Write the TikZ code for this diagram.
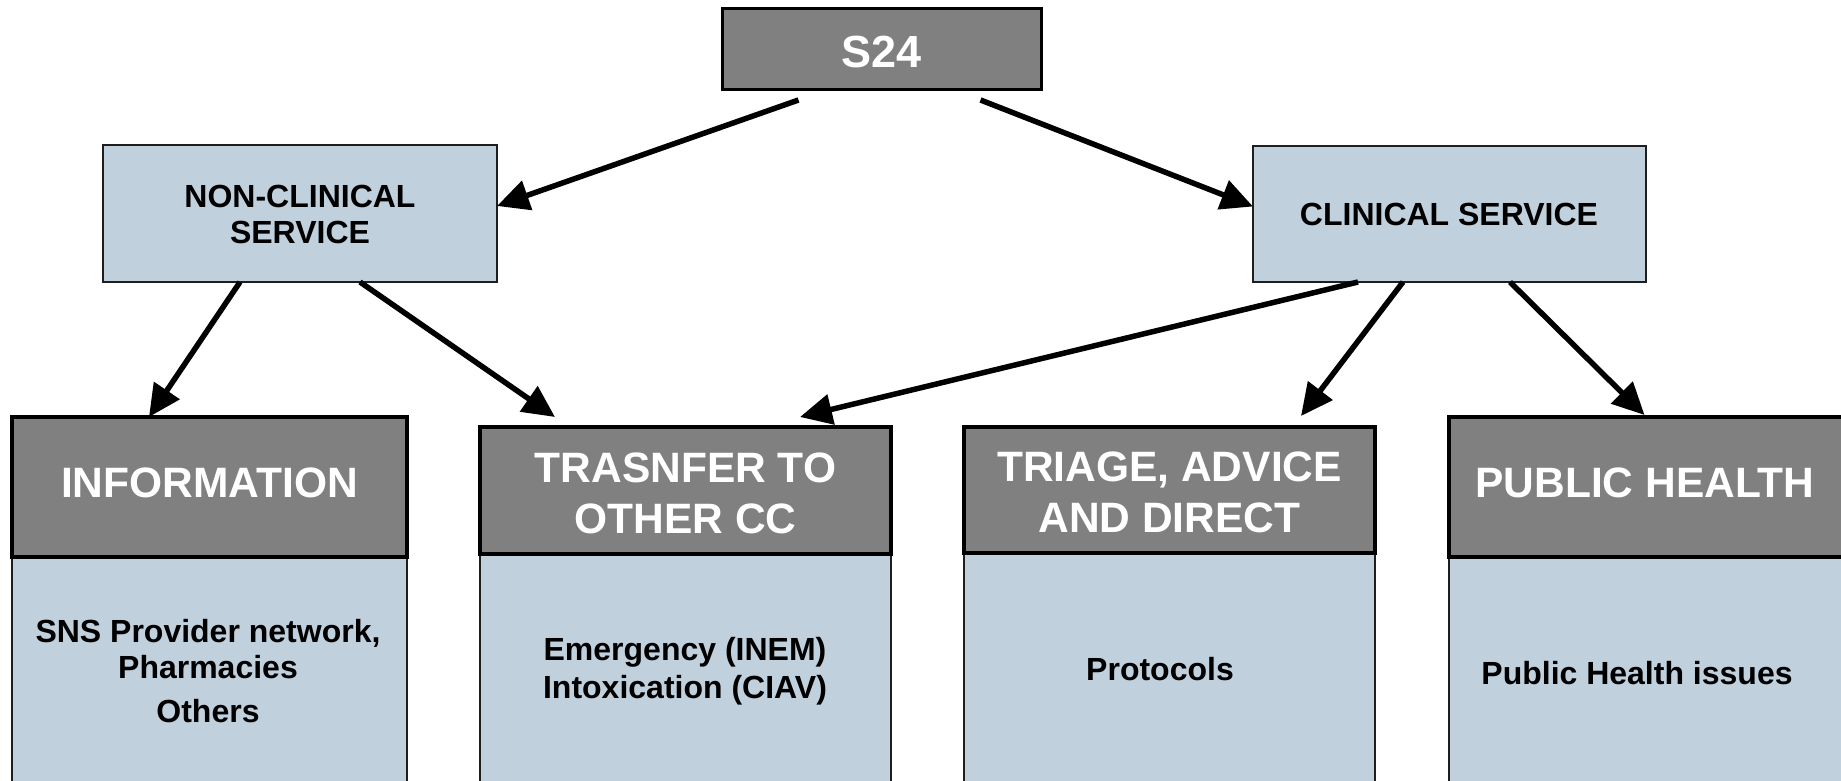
\documentclass[tikz,border=0pt]{standalone}
\usepackage{fontspec}
\setmainfont{Liberation Sans}
\usetikzlibrary{arrows.meta,calc}
\definecolor{hdr}{RGB}{128,128,128}
\definecolor{bdy}{RGB}{192,208,221}
\definecolor{bline}{RGB}{30,30,30}
\begin{document}
\begin{tikzpicture}[x=1pt,y=-1pt,
  hbox/.style={draw=black, line width=3.5pt, fill=hdr, inner sep=0pt, outer sep=0pt},
  bbox/.style={draw=bline, line width=1.5pt, fill=bdy, inner sep=0pt, outer sep=0pt},
  htxt/.style={text=white, font=\bfseries\fontsize{42.5}{51}\selectfont, align=center, inner sep=0pt},
  btxt/.style={text=black, font=\bfseries\fontsize{32}{37}\selectfont, align=center, inner sep=0pt},
  arr/.style={line width=5.5pt, -{Triangle[length=32pt,width=30pt]}}]
\clip (0,0) rectangle (1841,781);
% top
\node[hbox, line width=3pt, minimum width=319pt, minimum height=81pt] (s24) at (881.5,49.5) {};
\node[htxt, anchor=base, font=\bfseries\fontsize{45}{54}\selectfont] (s24t) at (881.5,68) {S24};
% services
\node[bbox, minimum width=394pt, minimum height=137pt] (nc) at (300,213.5) {};
\node[btxt, anchor=base, font=\bfseries\fontsize{32}{36}\selectfont] (nct) at (300,243) {NON-CLINICAL\\SERVICE};
\node[bbox, minimum width=393pt, minimum height=136pt] (cs) at (1449.5,214) {};
\node[btxt, anchor=base] (cst) at (1449,225) {CLINICAL SERVICE};
% bodies
\node[bbox, anchor=north, minimum width=395pt, minimum height=260pt] (infoB) at (209.5,557) {};
\node[bbox, anchor=north, minimum width=411pt, minimum height=260pt] (transB) at (685.5,554) {};
\node[bbox, anchor=north, minimum width=411pt, minimum height=260pt] (triB) at (1169.5,553) {};
\node[bbox, anchor=north, minimum width=395pt, minimum height=260pt] (pubB) at (1646.5,557) {};
% headers
\node[hbox, minimum width=395pt, minimum height=140pt] (infoH) at (209.5,487) {};
\node[htxt, anchor=base] (infoT) at (209.5,497) {INFORMATION};
\node[hbox, minimum width=411pt, minimum height=127pt] (transH) at (685.5,490.5) {};
\node[htxt, anchor=base] (transT) at (685.5,533) {TRASNFER TO\\OTHER CC};
\node[hbox, minimum width=411pt, minimum height=126pt] (triH) at (1169.5,490) {};
\node[htxt, anchor=base] (triT) at (1169.5,532) {TRIAGE, ADVICE\\AND DIRECT};
\node[hbox, minimum width=395pt, minimum height=140pt] (pubH) at (1646.5,487) {};
\node[htxt, anchor=base] (pubT) at (1645,497) {PUBLIC HEALTH};
% body texts
\node[btxt, anchor=base, font=\bfseries\fontsize{32}{36}\selectfont] (infoX) at (208,722) {SNS Provider network,\\Pharmacies\\[8pt]Others};
\node[btxt, anchor=base, font=\bfseries\fontsize{32}{38}\selectfont] (transX) at (685,698) {Emergency (INEM)\\Intoxication (CIAV)};
\node[btxt, anchor=base] (triX) at (1160,680) {Protocols};
\node[btxt, anchor=base] (pubX) at (1637,684) {Public Health issues};
% arrows
\draw[arr] ($(s24.south)+(-83,10)$) -- ($(nc.east)+(0,-7.5)$);
\draw[arr] ($(s24.south)+(99,10)$) -- ($(cs.west)+(0,-7.5)$);
\draw[arr] ($(nc.south)+(-60,0)$) -- ($(infoH.north)+(-60.5,0)$);
\draw[arr] ($(nc.south)+(60,0)$) -- ($(transH.north)+(-130.5,-10)$);
\draw[arr] ($(cs.south)+(-91.5,0)$) -- ($(transH.north)+(114.5,-10)$);
\draw[arr] ($(cs.south)+(-46.5,0)$) -- ($(triH.north)+(131.5,-11)$);
\draw[arr] ($(cs.south)+(60.5,0)$) -- ($(pubH.north)+(-2,-2)$);
\end{tikzpicture}
\end{document}
